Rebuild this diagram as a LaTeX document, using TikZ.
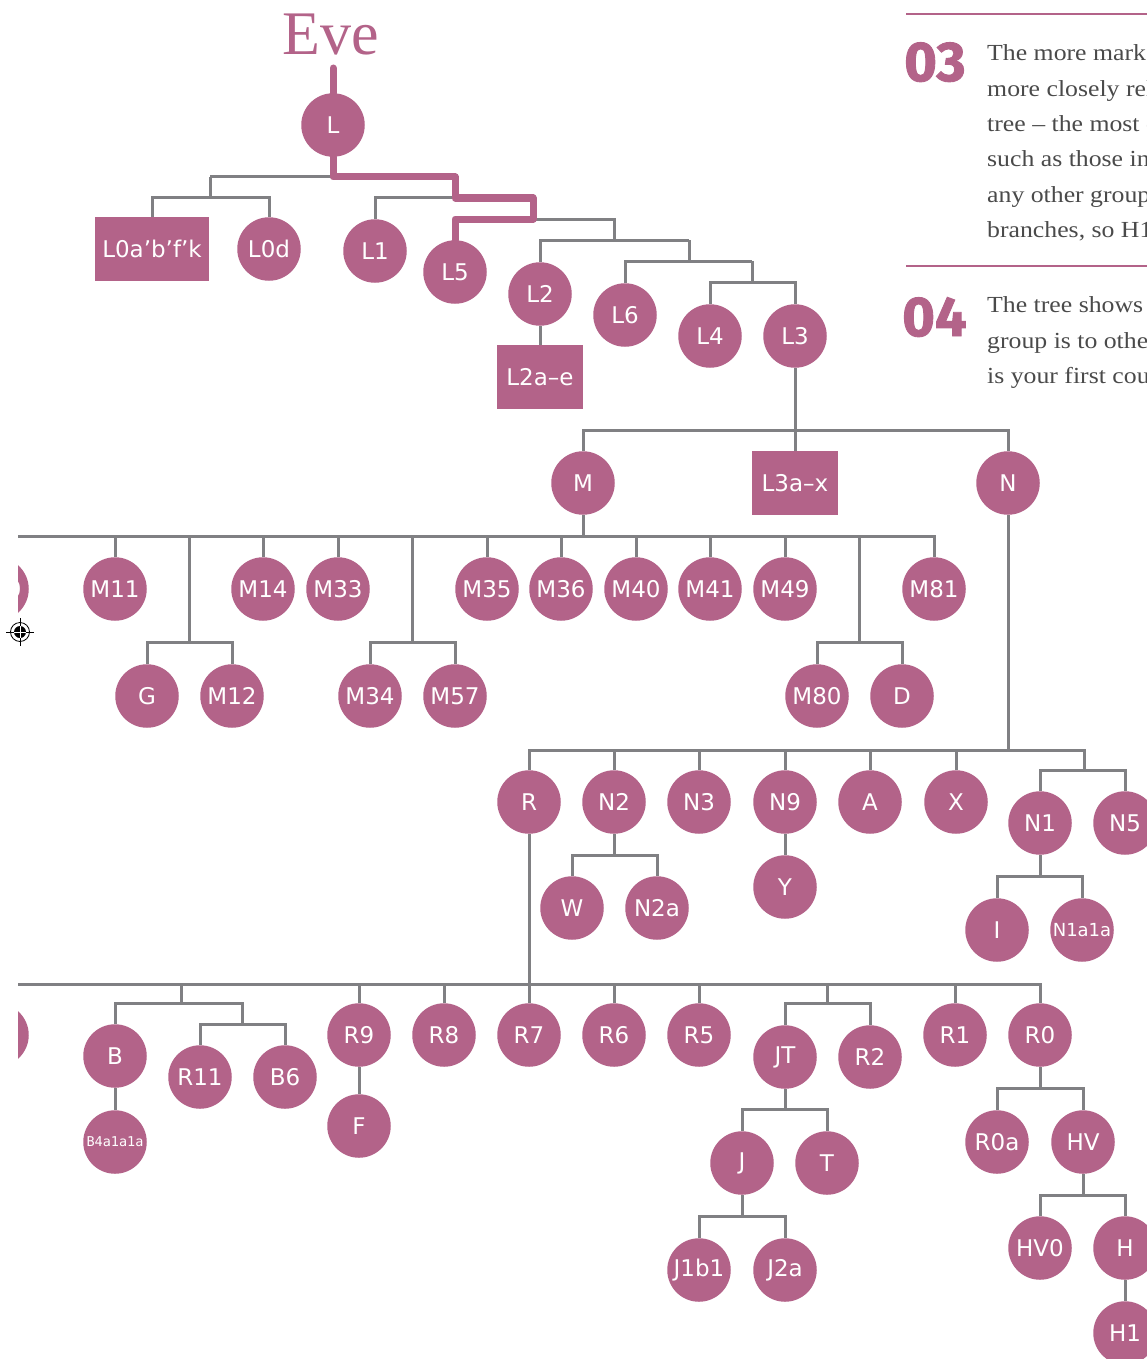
\documentclass[tikz,border=0pt]{standalone}
\usepackage{fontspec}
\setmainfont{Liberation Serif}
\newfontfamily\lblf{DejaVu Sans}
\newfontfamily\monof{DejaVu Sans Mono}
\newfontfamily\bodyf{Liberation Serif}[FakeStretch=1.12]
\newfontfamily\numf{Fira Sans}[BoldFeatures={FakeBold=1.6}]
\definecolor{pk}{HTML}{B36389}
\definecolor{gy}{HTML}{808083}
\definecolor{tx}{HTML}{4A4A4A}
\begin{document}
\begin{tikzpicture}[x=1pt,y=-1pt,
  hn/.style={circle, fill=pk, text=white, minimum size=63.5pt, inner sep=0pt, outer sep=0pt, font=\lblf\fontsize{23}{23}\selectfont},
  hb/.style={rectangle, fill=pk, text=white, minimum height=64pt, minimum width=86pt, inner sep=0pt, outer sep=0pt, font=\lblf\fontsize{23}{23}\selectfont},
  ln/.style={draw=gy, line width=3pt},
  pl/.style={draw=pk, line width=7pt, line cap=round, line join=round},
  bodytext/.style={anchor=base west, inner sep=0pt, text=tx, font=\bodyf\fontsize{23}{23}\selectfont},
  bignum/.style={anchor=base west, inner sep=0pt, text=pk, font=\numf\bfseries\fontsize{56}{56}\selectfont},
  rulestyle/.style={draw=pk, line width=2.6pt}]
\useasboundingbox (0,0) rectangle (1147,1359);

% ---------- right text column ----------
\coordinate (r1a) at (906,14); \coordinate (r1b) at (1147,14);
\coordinate (r2a) at (906,266); \coordinate (r2b) at (1147,266);
\draw[rulestyle] (r1a) -- (r1b);
\draw[rulestyle] (r2a) -- (r2b);
\node[bignum] (n03) at (904,81) {03};
\node[bignum] (n04) at (902,336) {04};
\begin{scope}
\clip (0,0) rectangle (1147,1359);
\node[bodytext] (t1) at (987,61) {The more markers you share,};
\node[bodytext] (t2) at (987,96.3) {more closely related};
\node[bodytext] (t3) at (987,131.6) {tree – the most distant};
\node[bodytext] (t4) at (987,166.9) {such as those in};
\node[bodytext] (t5) at (987,202.2) {any other group};
\node[bodytext] (t6) at (987,237.5) {branches, so H1};
\node[bodytext] (t7) at (987,312.5) {The tree shows how};
\node[bodytext] (t8) at (987,348) {group is to other};
\node[bodytext] (t9) at (987,383.5) {is your first cousin};
\end{scope}

% ---------- registration mark ----------
\coordinate (reg) at (20,632);
\draw[black, line width=0.8pt] (reg) circle (9.5pt);
\fill[black] (reg) circle (6pt);
\draw[black, line width=0.7pt] ([xshift=-14pt]reg) -- ([xshift=14pt]reg);
\draw[black, line width=0.7pt] ([yshift=-14pt]reg) -- ([yshift=14pt]reg);
\draw[white, line width=0.5pt] ([xshift=-6pt]reg) -- ([xshift=6pt]reg);
\draw[white, line width=0.5pt] ([yshift=-6pt]reg) -- ([yshift=6pt]reg);

% ---------- Eve ----------
\node[anchor=base, inner sep=0pt, text=pk, font=\fontsize{62}{62}\selectfont] (eve) at (330.5,55) {Eve};
\coordinate (evestub) at (333,68);

\begin{scope}
\clip (18,0) rectangle (1147,1359);
% ---------- nodes ----------
\node[hn] (L) at (333,125) {L};
\node[hb, minimum width=114pt] (L0) at (152,249) {L0a’b’f’k};
\node[hn] (L0d) at (269,249) {L0d};
\node[hn] (L1) at (375,251) {L1};
\node[hn] (L5) at (455,272) {L5};
\node[hn] (L2) at (540,294) {L2};
\node[hb] (L2ae) at (540,377) {L2a–e};
\node[hn] (L6) at (625,315) {L6};
\node[hn] (L4) at (710,336) {L4};
\node[hn] (L3) at (795,336) {L3};
\node[hn] (M) at (583,483) {M};
\node[hb] (L3ax) at (795,483) {L3a–x};
\node[hn] (N) at (1008,483) {N};
% M row
\node[hn] (Mx) at (-3,589) {M10};
\node[hn] (M11) at (115,589) {M11};
\node[hn] (M14) at (263,589) {M14};
\node[hn] (M33) at (338,589) {M33};
\node[hn] (M35) at (487,589) {M35};
\node[hn] (M36) at (561,589) {M36};
\node[hn] (M40) at (636,589) {M40};
\node[hn] (M41) at (710,589) {M41};
\node[hn] (M49) at (785,589) {M49};
\node[hn] (M81) at (934,589) {M81};
\node[hn] (G) at (147,696) {G};
\node[hn] (M12) at (232,696) {M12};
\node[hn] (M34) at (370,696) {M34};
\node[hn] (M57) at (455,696) {M57};
\node[hn] (M80) at (817,696) {M80};
\node[hn] (D) at (902,696) {D};
% N row
\node[hn] (R) at (529,802) {R};
\node[hn] (N2) at (614,802) {N2};
\node[hn] (N3) at (699,802) {N3};
\node[hn] (N9) at (785,802) {N9};
\node[hn] (A) at (870,802) {A};
\node[hn] (X) at (956,802) {X};
\node[hn] (N1) at (1040,823) {N1};
\node[hn] (N5) at (1125,823) {N5};
\node[hn] (W) at (572,908) {W};
\node[hn] (N2a) at (657,908) {N2a};
\node[hn] (Y) at (785,887) {Y};
\node[hn] (I) at (997,930) {I};
\node[hn, font=\lblf\fontsize{18}{18}\selectfont] (N1a1a) at (1082,930) {N1a1a};
% R row
\node[hn] (Rx) at (-3,1035) {R12};
\node[hn] (B) at (115,1056) {B};
\node[hn] (R11) at (200,1077) {R11};
\node[hn] (B6) at (285,1077) {B6};
\node[hn] (R9) at (359,1035) {R9};
\node[hn] (R8) at (444,1035) {R8};
\node[hn] (R7) at (529,1035) {R7};
\node[hn] (R6) at (614,1035) {R6};
\node[hn] (R5) at (699,1035) {R5};
\node[hn] (JT) at (785,1057) {JT};
\node[hn] (R2) at (870,1057) {R2};
\node[hn] (R1) at (955,1035) {R1};
\node[hn] (R0) at (1040,1035) {R0};
\node[hn, font=\monof\fontsize{13.5}{13.5}\selectfont] (B4) at (115,1142) {B4a1a1a};
\node[hn] (F) at (359,1126) {F};
\node[hn] (J) at (742,1163) {J};
\node[hn] (T) at (827,1163) {T};
\node[hn] (J1b1) at (699,1270) {J1b1};
\node[hn] (J2a) at (785,1270) {J2a};
\node[hn] (R0a) at (997,1142) {R0a};
\node[hn] (HV) at (1083,1142) {HV};
\node[hn] (HV0) at (1040,1248) {HV0};
\node[hn] (H) at (1125,1248) {H};
\node[hn] (H1) at (1125,1333) {H1};

% ---------- junction coordinates ----------
\coordinate (p1) at (333,177); \coordinate (p2) at (455,177);
\coordinate (p3) at (455,198); \coordinate (p4) at (533,198);
\coordinate (p5) at (533,219); \coordinate (p6) at (455,219);
\coordinate (a0) at (210,177); \coordinate (a0b) at (210,198);
\coordinate (a1) at (614,219); \coordinate (a1b) at (614,240);
\coordinate (a2) at (689,240); \coordinate (a2b) at (689,261);
\coordinate (a3) at (752,261); \coordinate (a3b) at (752,282);
\coordinate (jL3) at (795,430);
\coordinate (jM) at (583,536);
\coordinate (s1) at (189,642); \coordinate (s2) at (412,642); \coordinate (s3) at (859,642);
\coordinate (jN) at (1008,750);
\coordinate (t1) at (1084,750); \coordinate (t1b) at (1084,770);
\coordinate (u1) at (614,855); \coordinate (u2) at (1040,876);
\coordinate (jR) at (529,984);
\coordinate (v1) at (181,1003); \coordinate (v2) at (242,1003); \coordinate (v2b) at (242,1024);
\coordinate (w1) at (827,1003); \coordinate (w2) at (785,1109); \coordinate (w3) at (742,1216);
\coordinate (x1) at (1040,1088); \coordinate (x2) at (1083,1195);

% ---------- gray connectors ----------
\draw[ln] (a0) -- (p1);
\draw[ln] (a0) -- (a0b);
\draw[ln] (L0) |- (a0b) -| (L0d);
\draw[ln] (L1) |- (p3);
\draw[ln] (p5) -- (a1) -- (a1b);
\draw[ln] (L2) |- (a2);
\draw[ln] (a2) -- (a2b);
\draw[ln] (L6) |- (a3);
\draw[ln] (a3) -- (a3b);
\draw[ln] (L4) |- (a3b) -| (L3);
\draw[ln] (L2) -- (L2ae);
\draw[ln] (L3) -- (L3ax);
\draw[ln] (M) |- (jL3) -| (N);
% M group
\draw[ln] (M) -- (jM);
\draw[ln] (Mx) |- (jM) -| (M81);
\foreach \c in {M11,M14,M33,M35,M36,M40,M41,M49} \draw[ln] (\c) -- (\c |- jM);
\foreach \s in {s1,s2,s3} \draw[ln] (\s) -- (\s |- jM);
\draw[ln] (G) |- (s1) -| (M12);
\draw[ln] (M34) |- (s2) -| (M57);
\draw[ln] (M80) |- (s3) -| (D);
% N group
\draw[ln] (N) -- (jN);
\draw[ln] (R) |- (t1) -- (t1b);
\foreach \c in {N2,N3,N9,A,X} \draw[ln] (\c) -- (\c |- jN);
\draw[ln] (N1) |- (t1b) -| (N5);
\draw[ln] (N2) -- (u1);
\draw[ln] (W) |- (u1) -| (N2a);
\draw[ln] (N9) -- (Y);
\draw[ln] (N1) -- (u2);
\draw[ln] (I) |- (u2) -| (N1a1a);
% R group
\draw[ln] (R) -- (R7);
\draw[ln] (Rx) |- (jR) -| (R0);
\foreach \c in {R9,R8,R6,R5,R1} \draw[ln] (\c) -- (\c |- jR);
\draw[ln] (v1) -- (v1 |- jR);
\draw[ln] (B) |- (v2) -- (v2b);
\draw[ln] (R11) |- (v2b) -| (B6);
\draw[ln] (B) -- (B4);
\draw[ln] (R9) -- (F);
\draw[ln] (w1) -- (w1 |- jR);
\draw[ln] (JT) |- (w1) -| (R2);
\draw[ln] (JT) -- (w2);
\draw[ln] (J) |- (w2) -| (T);
\draw[ln] (J) -- (w3);
\draw[ln] (J1b1) |- (w3) -| (J2a);
\draw[ln] (R0) -- (x1);
\draw[ln] (R0a) |- (x1) -| (HV);
\draw[ln] (HV) -- (x2);
\draw[ln] (HV0) |- (x2) -| (H);
\draw[ln] (H) -- (H1);

% ---------- pink line of descent ----------
\draw[pl] (evestub) -- (L);
\draw[pl] (L) -- (p1) -- (p2) -- (p3) -- (p4) -- (p5) -- (p6) -- (L5);
\end{scope}
\end{tikzpicture}
\end{document}
